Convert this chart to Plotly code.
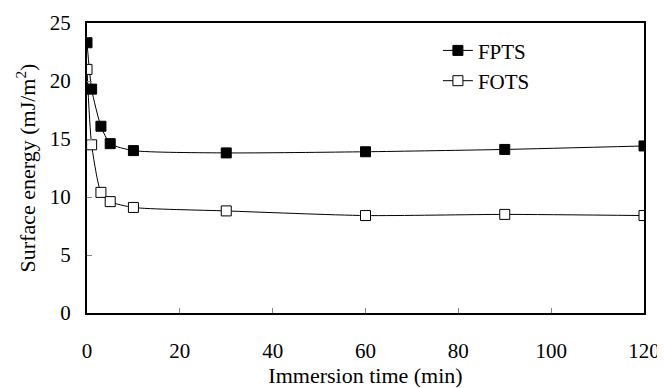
import plotly.graph_objects as go

time_min = [0, 1, 3, 5, 10, 30, 60, 90, 120]
fpts = [23.3, 19.3, 16.1, 14.6, 14.0, 13.8, 13.9, 14.1, 14.4]
fots = [21.0, 14.5, 10.4, 9.6, 9.1, 8.8, 8.4, 8.5, 8.4]
x_ticks = [0, 20, 40, 60, 80, 100, 120]
y_ticks = [0, 5, 10, 15, 20, 25]

FONT = "Liberation Serif, Times New Roman, serif"

fig = go.Figure()
fig.add_trace(go.Scatter(
    x=time_min, y=fpts, name="FPTS", mode="lines+markers",
    line=dict(color="black", width=1, shape="spline", smoothing=0.6),
    marker=dict(symbol="square", size=10, color="black", line=dict(color="black", width=1)),
))
fig.add_trace(go.Scatter(
    x=time_min, y=fots, name="FOTS", mode="lines+markers",
    line=dict(color="black", width=1, shape="spline", smoothing=0.6),
    marker=dict(symbol="square", size=10, color="white", line=dict(color="black", width=1)),
))

fig.update_layout(
    width=665, height=388,
    margin=dict(l=79, r=29, t=15, b=83, autoexpand=False),
    paper_bgcolor="white", plot_bgcolor="white",
    font=dict(family=FONT, size=21, color="black"),
    showlegend=True,
    legend=dict(x=0.63, y=0.975, xanchor="left", yanchor="top",
                bgcolor="rgba(0,0,0,0)", font=dict(family=FONT, size=21),
                itemwidth=30, tracegroupgap=0),
    xaxis=dict(
        range=[0, 120], tickvals=x_ticks, ticktext=[str(v) for v in x_ticks],
        showgrid=False, zeroline=False, showline=True, linecolor="black", linewidth=2,
        mirror=True, ticks="inside", ticklen=5, tickcolor="#888", tickwidth=1,
        ticklabelstandoff=18, automargin=False,
        title=dict(text="Immersion time (min)", font=dict(family=FONT, size=22), standoff=2),
    ),
    yaxis=dict(
        range=[0, 25], tickvals=y_ticks, ticktext=[str(v) for v in y_ticks],
        showgrid=False, zeroline=False, showline=True, linecolor="black", linewidth=2,
        mirror=True, ticks="inside", ticklen=5, tickcolor="#888", tickwidth=1,
        ticklabelstandoff=10, automargin=False,
        title=dict(text="Surface energy (mJ/m<sup>2</sup>)", font=dict(family=FONT, size=22), standoff=8),
    ),
)

fig.write_html("out.html")
